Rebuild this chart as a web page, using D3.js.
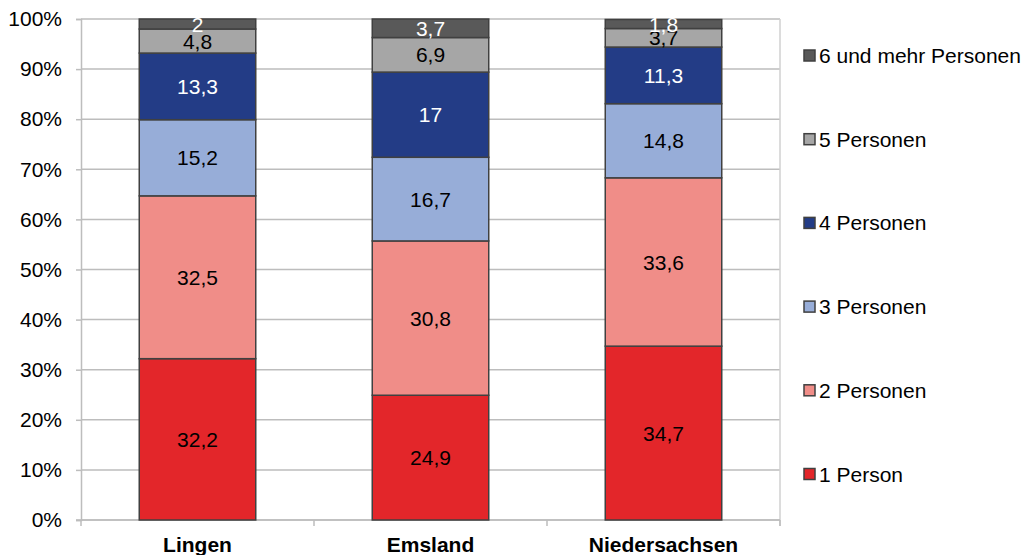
<!DOCTYPE html>
<html>
<head>
<meta charset="utf-8">
<script src="https://cdn.jsdelivr.net/npm/d3@7"></script>
<style>
  html, body { margin: 0; padding: 0; background: #fff; }
  svg { display: block; font-family: "Liberation Sans", Arial, sans-serif; }
</style>
</head>
<body>
<svg id="chart" width="1024" height="555"></svg>
<script>
// Haushaltsgrößen in Prozent je Gebiet
const categories = ["Lingen", "Emsland", "Niedersachsen"];
const seriesNames = ["1 Person", "2 Personen", "3 Personen", "4 Personen", "5 Personen", "6 und mehr Personen"];
const person1 = [32.2, 24.9, 34.7];
const person2 = [32.5, 30.8, 33.6];
const person3 = [15.2, 16.7, 14.8];
const person4 = [13.3, 17.0, 11.3];
const person5 = [4.8, 6.9, 3.7];
const person6 = [2.0, 3.7, 1.8];
const yTicks = [0, 10, 20, 30, 40, 50, 60, 70, 80, 90, 100];

const seriesValues = [person1, person2, person3, person4, person5, person6];
const colors = ["#E3262A", "#F08D88", "#97ADD8", "#233C86", "#A6A6A6", "#595959"];
const labelColors = ["#000", "#000", "#000", "#fff", "#000", "#fff"];
const FS = 21;

const svg = d3.select("#chart");
const margin = { left: 81, right: 780, top: 19, bottom: 520 };

const x = d3.scaleBand().domain(categories).range([margin.left, margin.right]).paddingInner(0.5).paddingOuter(0.25);
const y = d3.scaleLinear().domain([0, 100]).range([margin.bottom, margin.top]);

// Gitterlinien
svg.append("g").selectAll("line").data(yTicks).join("line")
  .attr("x1", margin.left).attr("x2", margin.right)
  .attr("y1", d => y(d)).attr("y2", d => y(d))
  .attr("stroke", "#BDBDBD").attr("stroke-width", 1.5);

// rechte Begrenzung
svg.append("line")
  .attr("x1", margin.right).attr("x2", margin.right)
  .attr("y1", margin.top).attr("y2", margin.bottom + 6)
  .attr("stroke", "#D0D0D0").attr("stroke-width", 1.5);

// Y-Achse
const yAxis = d3.axisLeft(y).tickValues(yTicks).tickFormat(d => d + "%").tickSize(5).tickPadding(14);
const gy = svg.append("g").attr("transform", `translate(${margin.left},0)`).call(yAxis);
gy.select(".domain").attr("stroke", "#BDBDBD").attr("stroke-width", 1.5);
gy.selectAll(".tick line").attr("stroke", "#BDBDBD").attr("stroke-width", 1.5);
gy.selectAll("text").attr("font-size", FS).attr("fill", "#000")
  .attr("font-family", "Liberation Sans, Arial, sans-serif");

// X-Achse mit Trennstrichen zwischen den Kategorien
const bounds = d3.range(categories.length + 1).map(i => margin.left + i * (margin.right - margin.left) / categories.length);
svg.append("line")
  .attr("x1", margin.left - 5).attr("x2", margin.right)
  .attr("y1", margin.bottom).attr("y2", margin.bottom)
  .attr("stroke", "#BDBDBD").attr("stroke-width", 1.5);
svg.append("g").selectAll("line").data(bounds).join("line")
  .attr("x1", d => d).attr("x2", d => d)
  .attr("y1", margin.bottom).attr("y2", margin.bottom + 6)
  .attr("stroke", "#BDBDBD").attr("stroke-width", 1.5);

svg.append("g").selectAll("text").data(categories).join("text")
  .attr("x", d => x(d) + x.bandwidth() / 2)
  .attr("y", 552)
  .attr("text-anchor", "middle")
  .attr("font-size", FS).attr("font-weight", "bold")
  .text(d => d);

// Stapel
const rows = categories.map((c, i) => {
  const r = { cat: c };
  seriesNames.forEach((s, k) => r[s] = seriesValues[k][i]);
  return r;
});
const stacked = d3.stack().keys(seriesNames)(rows);

const fmt = v => String(v).replace(".", ",");

stacked.forEach((layer, k) => {
  svg.append("g").selectAll("rect").data(layer).join("rect")
    .attr("x", d => x(d.data.cat))
    .attr("width", x.bandwidth())
    .attr("y", d => y(d[1]))
    .attr("height", d => y(d[0]) - y(d[1]))
    .attr("fill", colors[k])
    .attr("stroke", "#404040").attr("stroke-width", 1.5);
});

stacked.forEach((layer, k) => {
  svg.append("g").selectAll("text").data(layer).join("text")
    .attr("x", d => x(d.data.cat) + x.bandwidth() / 2)
    .attr("y", d => (y(d[0]) + y(d[1])) / 2)
    .attr("dy", "0.36em")
    .attr("text-anchor", "middle")
    .attr("font-size", FS)
    .attr("fill", labelColors[k])
    .text(d => fmt(d.data[layer.key]));
});

// Legende
const legendY = d3.scalePoint().domain(seriesNames.slice().reverse()).range([55.5, 474]);
const lg = svg.append("g").selectAll("g").data(seriesNames).join("g")
  .attr("transform", d => `translate(804,${legendY(d)})`);
lg.append("rect")
  .attr("x", 0).attr("y", -5.5).attr("width", 11).attr("height", 11)
  .attr("fill", (d, i) => colors[i])
  .attr("stroke", "#404040").attr("stroke-width", 1.5);
lg.append("text")
  .attr("x", 15).attr("dy", "0.36em")
  .attr("font-size", FS)
  .text(d => d);
</script>
</body>
</html>
